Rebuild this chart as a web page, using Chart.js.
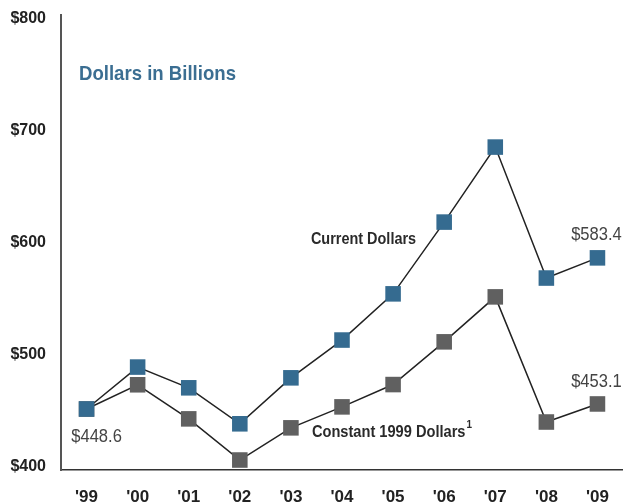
<!DOCTYPE html>
<html>
<head>
<meta charset="utf-8">
<script src="https://cdn.jsdelivr.net/npm/chart.js@4/dist/chart.umd.min.js"></script>
<style>
  html, body { margin: 0; padding: 0; background: #fff; overflow: hidden; }
  #wrap { width: 623px; height: 503px; position: relative; }
  canvas { display: block; }
</style>
</head>
<body>
<div id="wrap"><canvas id="spendingChart"></canvas></div>
<script>
const years = ["'99", "'00", "'01", "'02", "'03", "'04", "'05", "'06", "'07", "'08", "'09"];
const currentDollars = [448.6, 486.0, 467.5, 435.4, 476.4, 510.1, 551.3, 615.3, 682.2, 565.4, 583.4];
const constantDollars = [448.6, 470.2, 439.8, 403.1, 431.8, 450.5, 470.4, 508.5, 548.6, 437.0, 453.1];
const yTicks = [400, 500, 600, 700, 800];

const sans = "'Liberation Sans', Arial, sans-serif";

// no condensed face installed, so squeeze the regular one a bit
function squeezedText(ctx, text, x, y, sx) {
    ctx.save();
    ctx.translate(x, y);
    ctx.scale(sx, 1);
    ctx.fillText(text, 0, 0);
    const w = ctx.measureText(text).width * sx;
    ctx.restore();
    return w;
}

// title, series names and end-point values
const notesPlugin = {
    id: 'notes',
    afterDatasetsDraw(chart) {
        const { ctx, chartArea } = chart;
        const x = chart.scales.x, y = chart.scales.y;
        const last = years.length - 1;
        ctx.save();

        ctx.fillStyle = '#3b6e92';
        ctx.font = 'bold 21px ' + sans;
        ctx.textAlign = 'left';
        ctx.textBaseline = 'alphabetic';
        squeezedText(ctx, 'Dollars in Billions', chartArea.left + 18, chartArea.top + 65, 0.885);

        ctx.fillStyle = '#2a2a2a';
        ctx.font = 'bold 17px ' + sans;
        ctx.textBaseline = 'middle';
        squeezedText(ctx, 'Current Dollars', x.getPixelForValue(4) + 20, y.getPixelForValue(600), 0.85);
        const cx = x.getPixelForValue(4) + 21;
        const cy = y.getPixelForValue(428);
        const w = squeezedText(ctx, 'Constant 1999 Dollars', cx, cy, 0.86);
        ctx.font = 'bold 11px ' + sans;
        squeezedText(ctx, '1', cx + w + 1, cy - 7, 0.9);

        ctx.fillStyle = '#444';
        ctx.font = '18px ' + sans;
        ctx.textAlign = 'center';
        squeezedText(ctx, '$' + currentDollars[last].toFixed(1), x.getPixelForValue(last) - 1, y.getPixelForValue(currentDollars[last]) - 23, 0.92);
        squeezedText(ctx, '$' + constantDollars[last].toFixed(1), x.getPixelForValue(last) - 1, y.getPixelForValue(constantDollars[last]) - 22, 0.92);
        squeezedText(ctx, '$' + currentDollars[0].toFixed(1), x.getPixelForValue(0) + 10, y.getPixelForValue(currentDollars[0]) + 28, 0.92);
        ctx.restore();
    }
};

const ctx = document.getElementById('spendingChart').getContext('2d');
new Chart(ctx, {
    type: 'line',
    data: {
        labels: years,
        datasets: [
            {
                label: 'Current Dollars',
                data: currentDollars,
                borderColor: '#222',
                borderWidth: 1.5,
                pointStyle: 'rect',
                pointRadius: 11,
                pointBorderWidth: 0,
                pointBackgroundColor: '#356b90',
                tension: 0,
                clip: false
            },
            {
                label: 'Constant 1999 Dollars',
                data: constantDollars,
                borderColor: '#222',
                borderWidth: 1.5,
                pointStyle: 'rect',
                pointRadius: 11,
                pointBorderWidth: 0,
                pointBackgroundColor: '#606060',
                tension: 0,
                clip: false
            }
        ]
    },
    options: {
        responsive: true,
        maintainAspectRatio: false,
        animation: false,
        layout: { autoPadding: false, padding: { top: 15, left: 0, right: 0, bottom: 0 } },
        plugins: {
            legend: { display: false },
            tooltip: { enabled: false },
            title: { display: false }
        },
        scales: {
            x: {
                offset: true,
                grid: { color: 'transparent', drawTicks: false },
                border: { display: true, color: '#333', width: 1.5 },
                ticks: {
                    color: '#222',
                    padding: 17,
                    font: { family: sans, size: 17, weight: 'bold' }
                },
                afterFit(scale) {
                    scale.height = 33;
                    scale.paddingLeft = 0;
                    scale.paddingRight = 0;
                }
            },
            y: {
                min: 394.2,
                max: 800,
                afterBuildTicks(scale) { scale.ticks = yTicks.map(v => ({ value: v })); },
                grid: { color: 'transparent', drawTicks: false },
                border: { display: true, color: '#555', width: 2 },
                ticks: {
                    color: '#222',
                    padding: 15,
                    labelOffset: 3.5,
                    font: { family: sans, size: 16, weight: 'bold' },
                    callback: v => '$' + v
                },
                afterFit(scale) {
                    scale.width = 61;
                    scale.paddingTop = 0;
                    scale.paddingBottom = 0;
                }
            }
        }
    },
    plugins: [notesPlugin]
});
</script>
</body>
</html>
